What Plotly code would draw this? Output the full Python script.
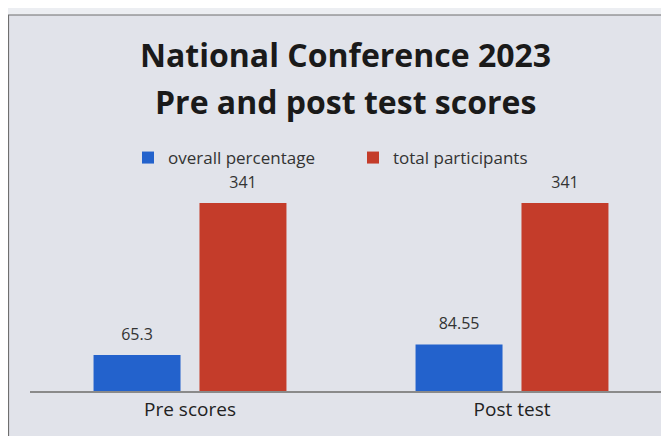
import plotly.graph_objects as go

categories = ["Pre scores", "Post test"]
overall_percentage = [65.3, 84.55]
total_participants = [341, 341]
series_names = ["overall percentage", "total participants"]
title_lines = ["National Conference 2023", "Pre and post test scores"]

# page body has an 8px default margin -> figure is 661x428 placed at (8, 8)
W, H = 661, 428
T, B = 163, 45
PH = H - T - B
FONT = "'Open Sans', sans-serif"
BLUE, RED = "#2362cc", "#c43c2a"


def py(ref_y):
    """paper y for a reference-picture pixel row"""
    return 1 + (T - (ref_y - 8)) / PH


fig = go.Figure()
for name, vals, col, grp in [(series_names[0], overall_percentage, BLUE, "a"),
                             (series_names[1], total_participants, RED, "b")]:
    fig.add_trace(go.Bar(name=name, x=categories, y=vals, marker=dict(color=col, line=dict(width=0)),
                         offsetgroup=grp, alignmentgroup="g"))
for vals, grp in [(overall_percentage, "a"), (total_participants, "b")]:
    fig.add_trace(go.Scatter(x=categories, y=vals, mode="markers+text", text=[str(v) for v in vals],
                             textposition="top center", offsetgroup=grp, alignmentgroup="g",
                             marker=dict(size=16, opacity=0), showlegend=False, hoverinfo="skip",
                             textfont=dict(size=16, color="#333", family=FONT), cliponaxis=False))

fig.update_layout(
    width=W, height=H,
    margin=dict(l=0, r=0, t=T, b=B),
    paper_bgcolor="#eceef2", plot_bgcolor="rgba(0,0,0,0)",
    barmode="group", bargap=0.342, bargroupgap=0.179,
    scattermode="group", scattergap=0.342,
    showlegend=True,
    legend=dict(orientation="h", x=120 / W, xanchor="left", y=py(158), yanchor="middle",
                font=dict(size=17, color="#333", family=FONT),
                entrywidth=180, entrywidthmode="pixels", bgcolor="rgba(0,0,0,0)",
                traceorder="normal"),
    xaxis=dict(domain=[22 / W, 1], range=[-160 / 322, 479 / 322], showline=True, linecolor="#8a8a8a",
               linewidth=1.5, ticks="", tickfont=dict(size=19, color="#222", family=FONT),
               showgrid=False, zeroline=False, fixedrange=True),
    yaxis=dict(range=[0, 399], visible=False, showgrid=False, fixedrange=True),
    shapes=[
        dict(type="rect", xref="paper", yref="paper", x0=0.5 / W, x1=1.05,
             y0=-0.5, y1=py(15),
             fillcolor="#e1e3ea", line=dict(color="#6f6f6f", width=1.2), layer="below"),
    ],
    annotations=[
        dict(text="<b>%s</b>" % title_lines[0], xref="paper", yref="paper",
             x=(345 - 8) / W, y=py(54), yanchor="middle", showarrow=False,
             font=dict(size=32, color="#1a1a1a", family=FONT)),
        dict(text="<b>%s</b>" % title_lines[1], xref="paper", yref="paper",
             x=(345 - 8) / W, y=py(101), yanchor="middle", showarrow=False,
             font=dict(size=32, color="#1a1a1a", family=FONT)),
    ],
)

fig.write_html("out.html")
